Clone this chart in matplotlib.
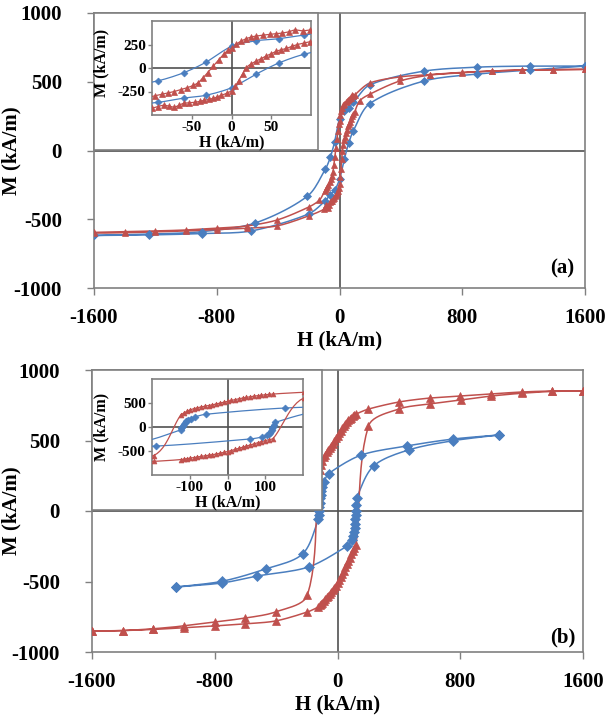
import numpy as np
import matplotlib
matplotlib.use('Agg')
import matplotlib.pyplot as plt
from matplotlib.patches import Rectangle

# ---------------- data ----------------
# Panel (a)
Ha_blue_dn = [1600, 1242, 895, 549, 196, 91, 60, 31, 0, -32, -60, -92, -209, -549, -895, -1242, -1600]
Ma_blue_dn = [614, 614, 606, 577, 476, 350, 312, 290, 230, 62, -50, -135, -332, -527, -590, -608, -618]
Ha_blue_up = [-1600, -1242, -895, -575, -202, -92, -60, -32, 0, 31, 60, 91, 196, 549, 895, 1242, 1600]
Ma_blue_up = [-618, -614, -604, -585, -462, -365, -320, -290, -210, -65, 55, 145, 340, 505, 556, 585, 614]

Ha_red_dn = [1600, 1390, 1189, 993, 797, 588, 392, 196, 99, 90, 80, 72, 64, 56, 48, 40, 31, 25, 18, 12, 6, 0,
             -4, -10, -16, -23, -30, -36, -42, -48, -56, -64, -72, -80, -88, -96,
             -131, -202, -405, -600, -800, -1000, -1200, -1400, -1600]
Ma_red_dn = [590, 588, 585, 578, 568, 552, 535, 490, 405, 395, 405, 385, 372, 365, 358, 350, 340, 330, 310, 285, 255, 215,
             190, 145, 85, 20, -50, -105, -156, -185, -210, -230, -250, -265, -280, -295,
             -361, -412, -505, -548, -565, -578, -585, -590, -595]
Ha_red_up = [-1600, -1400, -1200, -1000, -800, -600, -405, -202,
             -100, -93, -85, -79, -72, -66, -60, -53, -46, -40, -34, -28, -23, -18, -13, -6, 0,
             5, 9, 14, 18, 24, 31, 37, 43, 50, 56, 62, 69, 76, 83, 91, 99,
             131, 202, 392, 588, 797, 993, 1189, 1390, 1600]
Ma_red_up = [-600, -598, -592, -585, -575, -565, -548, -476,
             -427, -410, -396, -405, -417, -395, -375, -370, -365, -355, -344, -333, -323, -308, -292, -270, -240,
             -190, -135, -65, 0, 40, 73, 100, 125, 152, 177, 193, 208, 230, 250, 265, 281,
             361, 412, 505, 548, 565, 578, 585, 588, 590]

# Panel (b)
Hb_blue_dn = [1050, 750, 450, 153, -58, -87, -98, -105, -110, -113, -116, -118, -120, -122, -124, -228, -469, -750, -1050]
Mb_blue_dn = [539, 510, 461, 396, 265, 208, 170, 140, 115, 90, 60, 30, 0, -30, -60, -305, -411, -498, -539]
Hb_blue_up = [-1050, -750, -522, -189, 60, 92, 104, 110, 113, 115, 117, 119, 121, 123, 126, 235, 463, 750, 1050]
Mb_blue_up = [-539, -510, -461, -397, -250, -208, -175, -150, -120, -90, -60, -30, 0, 40, 95, 319, 433, 498, 539]

Hb_red_dn = [1600, 1400, 1200, 1000, 800, 600, 400, 202,
             121, 110, 100, 90, 80, 70, 60, 50, 40, 30, 20, 10, 0, -10, -20, -30, -40, -50, -60, -70, -80, -90,
             -100, -108, -116, -124,
             -196, -404, -600, -800, -1000, -1200, -1400, -1600]
Mb_red_dn = [851, 851, 844, 830, 816, 801, 773, 723,
             688, 680, 672, 663, 653, 642, 630, 617, 603, 588, 570, 553, 535, 515, 496, 478, 462, 447, 433, 418, 400, 380,
             354, 325, 290, 250,
             -596, -716, -759, -787, -815, -835, -848, -851]
Hb_red_up = [-1600, -1400, -1200, -1000, -800, -600, -404, -196,
             -124, -116, -108, -100, -90, -80, -70, -60, -50, -40, -30, -20, -10, 0, 10, 20, 30, 40, 50, 60, 70, 80,
             90, 100, 110, 121,
             202, 398, 600, 802, 1000, 1200, 1400, 1600]
Mb_red_up = [-852, -848, -840, -828, -815, -800, -780, -716,
             -680, -670, -660, -650, -637, -624, -612, -600, -589, -578, -563, -547, -530, -512, -490, -468, -446, -422, -398, -375, -352, -330,
             -305, -285, -262, -240,
             603, 723, 759, 787, 815, 835, 848, 851]

main_xticks = [-1600, -800, 0, 800, 1600]
main_yticks = [-1000, -500, 0, 500, 1000]
inset_a_xticks = [-50, 0, 50]
inset_a_yticks = [-250, 0, 250]
inset_b_xticks = [-100, 0, 100]
inset_b_yticks = [-500, 0, 500]

# ---------------- style ----------------
plt.rcParams['font.family'] = ['Liberation Serif', 'DejaVu Serif']
plt.rcParams['font.weight'] = 'bold'
plt.rcParams['axes.unicode_minus'] = False

BLUE = '#4A7EBF'
RED = '#C0504D'
SPINE = '#808080'
ZERO = '#505050'

W, Hh = 611, 716
fig = plt.figure(figsize=(W / 100, Hh / 100), dpi=100)


def fr(x0, y0, x1, y1):
    """pixel box (left, top, right, bottom) -> figure fraction rect"""
    return [x0 / W, 1 - y1 / Hh, (x1 - x0) / W, (y1 - y0) / Hh]


def smooth_xy(ax, x, y, tension=0.3, n=12):
    x = np.asarray(x, float)
    y = np.asarray(y, float)
    pos = ax.get_position()
    x0, x1 = ax.get_xlim()
    y0, y1 = ax.get_ylim()
    sx = pos.width * W / (x1 - x0)
    sy = pos.height * Hh / (y1 - y0)
    P = np.column_stack([x * sx, y * sy])
    out = [P[0]]
    m = len(P)
    for i in range(m - 1):
        p0 = P[i - 1] if i > 0 else P[i]
        p1 = P[i]
        p2 = P[i + 1]
        p3 = P[i + 2] if i + 2 < m else P[i + 1]
        d = np.linalg.norm(p2 - p1)
        t1 = p2 - p0
        n1 = np.linalg.norm(t1)
        t1 = t1 / n1 if n1 > 0 else np.zeros(2)
        t2 = p3 - p1
        n2 = np.linalg.norm(t2)
        t2 = t2 / n2 if n2 > 0 else np.zeros(2)
        c1 = p1 + t1 * d * tension
        c2 = p2 - t2 * d * tension
        s = np.linspace(0, 1, n)[1:][:, None]
        seg = ((1 - s) ** 3) * p1 + 3 * ((1 - s) ** 2) * s * c1 + 3 * (1 - s) * s ** 2 * c2 + s ** 3 * p2
        out.extend(seg)
    out = np.array(out)
    return out[:, 0] / sx, out[:, 1] / sy


def draw(ax, H, M, color, marker, ms, lw):
    xs, ys = smooth_xy(ax, H, M)
    ax.plot(xs, ys, color=color, lw=lw, zorder=3, solid_joinstyle='round')
    ax.plot(H, M, ls='none', marker=marker, ms=ms, color=color, mec=color, mew=0.5, zorder=4)


def style_axes(ax, xlim, ylim, xt, yt, fs, pad_x, pad_y, tl):
    ax.set_xlim(*xlim)
    ax.set_ylim(*ylim)
    ax.set_xticks(xt)
    ax.set_yticks(yt)
    for s in ax.spines.values():
        s.set_color(SPINE)
        s.set_linewidth(1.2)
    ax.axhline(0, color=ZERO, lw=1.2, zorder=2)
    ax.axvline(0, color=ZERO, lw=1.2, zorder=2)
    ax.tick_params(direction='out', length=tl, width=1, color=SPINE, labelsize=fs)
    ax.tick_params(axis='x', pad=pad_x)
    ax.tick_params(axis='y', pad=pad_y)
    for lab in ax.get_xticklabels() + ax.get_yticklabels():
        lab.set_fontweight('bold')


# ---------------- panel (a) ----------------
ax_a = fig.add_axes(fr(94, 13, 585, 288), zorder=0)
style_axes(ax_a, (-1600, 1600), (-1000, 1000), main_xticks, main_yticks, 15, 9.5, 18, 5)
ax_a.set_xlabel('H (kA/m)', fontsize=15, fontweight='bold')
ax_a.set_ylabel('M (kA/m)', fontsize=15, fontweight='bold')
ax_a.xaxis.set_label_coords(0.5, -0.155)
ax_a.yaxis.set_label_coords(-0.147, 0.5)
draw(ax_a, Ha_blue_dn + Ha_blue_up, Ma_blue_dn + Ma_blue_up, BLUE, 'D', 4.5, 1.1)
draw(ax_a, Ha_red_dn + Ha_red_up, Ma_red_dn + Ma_red_up, RED, '^', 5, 1.1)
ax_a.text(1450, -860, '(a)', fontsize=15, fontweight='bold', ha='center', va='center')

fig.add_artist(Rectangle((94 / W, 1 - 150 / Hh), (318 - 94) / W, (150 - 13) / Hh,
                         transform=fig.transFigure, facecolor='white', edgecolor=SPINE, lw=1.2, zorder=1))
ia = fig.add_axes(fr(152, 21, 311, 115), zorder=2)
style_axes(ia, (-100, 100), (-500, 500), inset_a_xticks, inset_a_yticks, 11, 1, 1.5, 3)
ia.set_xlabel('H (kA/m)', fontsize=11.5, fontweight='bold')
ia.set_ylabel('M (kA/m)', fontsize=11.5, fontweight='bold')
ia.xaxis.set_label_coords(0.5, -0.205)
ia.yaxis.set_label_coords(-0.265, 0.55)
draw(ia, Ha_blue_dn + Ha_blue_up, Ma_blue_dn + Ma_blue_up, BLUE, 'D', 3.5, 0.9)
draw(ia, Ha_red_dn + Ha_red_up, Ma_red_dn + Ma_red_up, RED, '^', 4, 0.9)

# ---------------- panel (b) ----------------
ax_b = fig.add_axes(fr(92, 370, 583, 652), zorder=0)
style_axes(ax_b, (-1600, 1600), (-1000, 1000), main_xticks, main_yticks, 15, 9.5, 18, 5)
ax_b.set_xlabel('H (kA/m)', fontsize=15, fontweight='bold')
ax_b.set_ylabel('M (kA/m)', fontsize=15, fontweight='bold')
ax_b.xaxis.set_label_coords(0.5, -0.15)
ax_b.yaxis.set_label_coords(-0.143, 0.5)
draw(ax_b, Hb_blue_dn + Hb_blue_up, Mb_blue_dn + Mb_blue_up, BLUE, 'D', 5.5, 1.1)
draw(ax_b, Hb_red_dn + Hb_red_up, Mb_red_dn + Mb_red_up, RED, '^', 6, 1.1)
ax_b.text(1467, -894, '(b)', fontsize=15, fontweight='bold', ha='center', va='center')

fig.add_artist(Rectangle((92 / W, 1 - 510 / Hh), (322 - 92) / W, (510 - 370) / Hh,
                         transform=fig.transFigure, facecolor='white', edgecolor=SPINE, lw=1.2, zorder=1))
ib = fig.add_axes(fr(152, 379, 303, 475), zorder=2)
style_axes(ib, (-200, 200), (-1000, 1000), inset_b_xticks, inset_b_yticks, 11, 1, 1.5, 3)
ib.set_xlabel('H (kA/m)', fontsize=11.5, fontweight='bold')
ib.set_ylabel('M (kA/m)', fontsize=11.5, fontweight='bold')
ib.xaxis.set_label_coords(0.5, -0.2)
ib.yaxis.set_label_coords(-0.28, 0.5)
draw(ib, Hb_blue_dn + Hb_blue_up, Mb_blue_dn + Mb_blue_up, BLUE, 'D', 3.5, 0.9)
draw(ib, Hb_red_dn + Hb_red_up, Mb_red_dn + Mb_red_up, RED, '^', 3.5, 0.9)

fig.savefig('out.png', dpi=100)
